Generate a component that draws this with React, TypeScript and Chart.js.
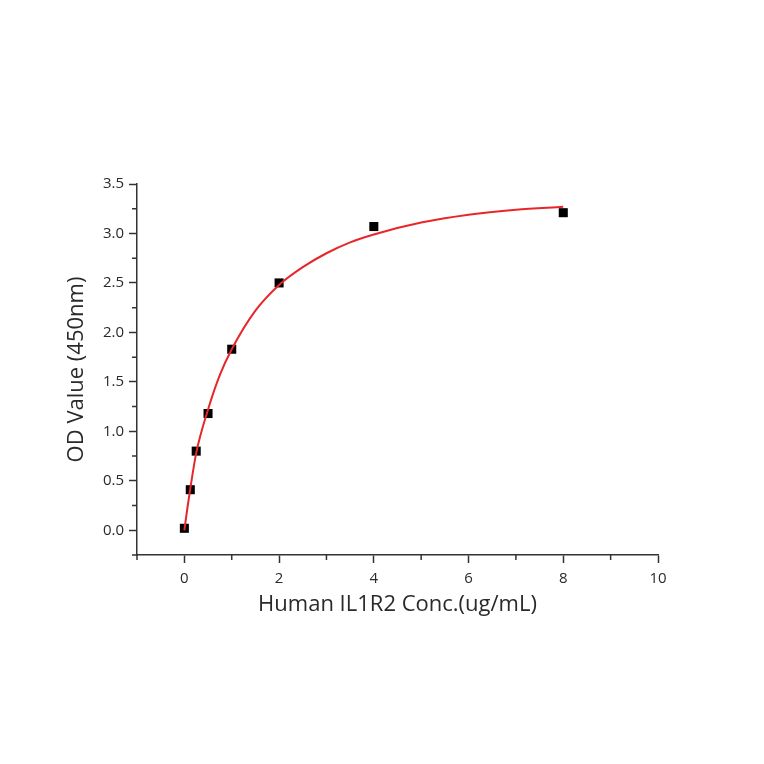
import React, { useEffect, useRef } from "react";
import { Chart, registerables } from "chart.js";

Chart.register(...registerables);

// Measured points (Human IL1R2 Conc. ug/mL vs OD 450nm)
const concX = [0, 0.125, 0.25, 0.5, 1, 2, 4, 8];
const odY = [0.02, 0.41, 0.8, 1.18, 1.83, 2.5, 3.07, 3.21];

// Fitted curve
const fitX = [0, 0.0625, 0.125, 0.25, 0.5, 0.75, 1, 1.5, 2, 2.5, 3, 3.5, 4, 5, 6, 7, 8];
const fitY = [0.0, 0.22, 0.42, 0.78, 1.22, 1.57, 1.83, 2.22, 2.48, 2.66, 2.8, 2.91, 2.99, 3.11, 3.19, 3.24, 3.27];

const xMajorTicks = [0, 2, 4, 6, 8, 10];
const xMinorTicks = [-1, 1, 3, 5, 7, 9];
const yMajorTicks = [0, 0.5, 1, 1.5, 2, 2.5, 3, 3.5];
const yMinorTicks = [-0.25, 0.25, 0.75, 1.25, 1.75, 2.25, 2.75, 3.25];

const xTitle = "Human IL1R2 Conc.(ug/mL)";
const yTitle = "OD Value (450nm)";

const AXIS_COLOR = "#333333";
const TEXT_COLOR = "#2a2a2a";
const FONT = "'Open Sans', 'Noto Sans', sans-serif";

const minorTickPlugin = {
  id: "minorTicks",
  afterDraw(chart: any) {
    const ctx = chart.ctx;
    const xs = chart.scales.x;
    const ys = chart.scales.y;
    const area = chart.chartArea;
    ctx.save();
    ctx.strokeStyle = AXIS_COLOR;
    ctx.lineWidth = 1.5;
    ctx.beginPath();
    xMinorTicks.forEach((v) => {
      const px = xs.getPixelForValue(v);
      ctx.moveTo(px, area.bottom);
      ctx.lineTo(px, area.bottom + 5);
    });
    yMinorTicks.forEach((v) => {
      const py = ys.getPixelForValue(v);
      ctx.moveTo(area.left, py);
      ctx.lineTo(area.left - 5, py);
    });
    ctx.stroke();
    ctx.restore();
  },
};

export default function App() {
  const ref = useRef<HTMLCanvasElement | null>(null);

  useEffect(() => {
    document.body.style.margin = "0";
    const canvas = ref.current;
    if (!canvas) return;
    const chart = new Chart(canvas, {
      type: "scatter",
      data: {
        datasets: [
          {
            type: "line",
            label: "fit",
            data: fitX.map((x, i) => ({ x, y: fitY[i] })),
            borderColor: "#e8262a",
            borderWidth: 2,
            pointRadius: 0,
            fill: false,
            cubicInterpolationMode: "monotone",
            order: 0,
          } as any,
          {
            label: "data",
            data: concX.map((x, i) => ({ x, y: odY[i] })),
            pointStyle: "rect",
            pointRadius: 6.4,
            pointBackgroundColor: "#000000",
            pointBorderColor: "#000000",
            pointBorderWidth: 0,
            showLine: false,
            order: 1,
          },
        ],
      },
      options: {
        animation: false,
        responsive: false,
        maintainAspectRatio: false,
        layout: { padding: { left: 64, right: 106, top: 184, bottom: 764 - 555 - 63 } },
        plugins: {
          legend: { display: false },
          tooltip: { enabled: false },
        },
        scales: {
          x: {
            type: "linear",
            min: -1,
            max: 10,
            afterBuildTicks: (scale: any) => {
              scale.ticks = xMajorTicks.map((v) => ({ value: v }));
            },
            afterFit: (scale: any) => {
              scale.height = 63;
            },
            grid: {
              display: true,
              drawOnChartArea: false,
              drawTicks: true,
              tickLength: 8,
              tickColor: AXIS_COLOR,
              tickWidth: 1.5,
            },
            border: { display: true, color: AXIS_COLOR, width: 1.5 },
            ticks: {
              color: TEXT_COLOR,
              font: { family: FONT, size: 15 },
              padding: 7,
              maxRotation: 0,
              callback: (v: any) => String(v),
            },
            title: {
              display: true,
              text: xTitle,
              color: TEXT_COLOR,
              font: { family: FONT, size: 22 },
              padding: { top: 0, bottom: 0 },
            },
          },
          y: {
            type: "linear",
            min: -0.25,
            max: 3.5,
            afterBuildTicks: (scale: any) => {
              scale.ticks = yMajorTicks.map((v) => ({ value: v }));
            },
            afterFit: (scale: any) => {
              scale.width = 137 - 64;
            },
            grid: {
              display: true,
              drawOnChartArea: false,
              drawTicks: true,
              tickLength: 8,
              tickColor: AXIS_COLOR,
              tickWidth: 1.5,
            },
            border: { display: true, color: AXIS_COLOR, width: 1.5 },
            ticks: {
              color: TEXT_COLOR,
              font: { family: FONT, size: 15 },
              padding: 5,
              callback: (v: any) => Number(v).toFixed(1),
            },
            title: {
              display: true,
              text: yTitle,
              color: TEXT_COLOR,
              font: { family: FONT, size: 22 },
              padding: { top: 0, bottom: 0 },
            },
          },
        },
      },
      plugins: [minorTickPlugin],
    });
    return () => chart.destroy();
  }, []);

  return (
    <div style={{ position: "absolute", left: 0, top: 0, width: 764, height: 764, background: "#fff" }}>
      <canvas ref={ref} width={764} height={764} style={{ width: 764, height: 764 }} />
    </div>
  );
}
